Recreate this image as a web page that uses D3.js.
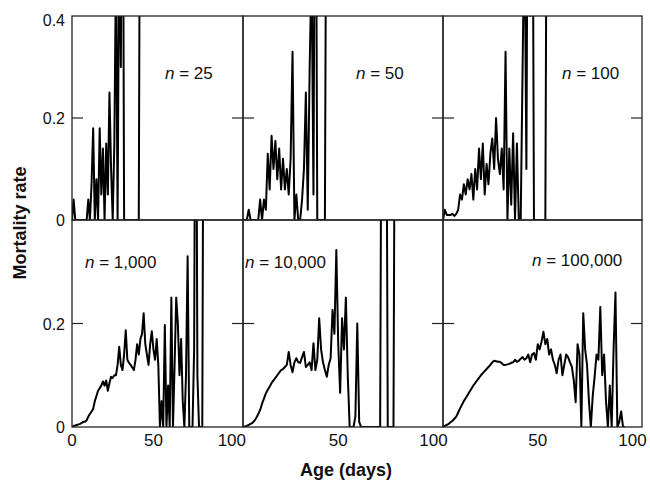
<!DOCTYPE html>
<html>
<head>
<meta charset="utf-8">
<script src="https://cdn.jsdelivr.net/npm/d3@7"></script>
<style>
  body { margin: 0; background: #fff; }
  text { font-family: "Liberation Sans", Arial, sans-serif; fill: #111; }
</style>
</head>
<body>
<div id="chart"></div>
<script>
let width = 650,
    height = 480;

// daily mortality rate, one value per day of age starting at day 0
const rate25 = [0, 0.04, 0, 0, 0, 0, 0, 0, 0, 0,
  0.04, 0, 0.07, 0.18, 0, 0.08, 0, 0.18, 0.05, 0.14,
  0, 0.15, 0.05, 0.25, 0.1, 0, 0.15, 0.5, 0, 0.6,
  0.3, 1, 0, 0, 0, 0, 0, 0, 0, 0,
  0, 0, 1];

const rate50 = [0, 0, 0, 0.02, 0, 0, 0, 0, 0, 0.04,
  0, 0.04, 0.02, 0.13, 0.06, 0.165, 0.1, 0.155, 0.08, 0.14,
  0.06, 0.12, 0.06, 0.1, 0.05, 0.12, 0.33, 0, 0.05, 0,
  0, 0.04, 0.1, 0.25, 0.02, 0.3, 0.5, 0.05, 1, 0,
  0, 0, 0, 0, 1];

const rate100 = [0, 0.02, 0.01, 0.01, 0.01, 0.012, 0.008, 0.012, 0.02, 0.05,
  0.04, 0.07, 0.05, 0.08, 0.06, 0.09, 0.04, 0.1, 0.06, 0.14,
  0.08, 0.15, 0.05, 0.11, 0.07, 0.13, 0.16, 0.1, 0.2, 0.12,
  0.09, 0.14, 0.06, 0.33, 0, 0.14, 0.03, 0.17, 0, 0.15,
  0, 0, 0.3, 0.6, 0.1, 1, 0.4, 1, 0, 0,
  0, 0, 0, 0, 0, 1];

const rate1000 = [0, 0.002, 0.003, 0.004, 0.005, 0.006, 0.008, 0.01, 0.01, 0.013,
  0.02, 0.025, 0.03, 0.035, 0.05, 0.06, 0.07, 0.075, 0.08, 0.088,
  0.08, 0.09, 0.07, 0.085, 0.097, 0.095, 0.1, 0.1, 0.12, 0.155,
  0.12, 0.11, 0.14, 0.187, 0.13, 0.124, 0.12, 0.115, 0.11, 0.13,
  0.16, 0.14, 0.17, 0.18, 0.22, 0.16, 0.14, 0.12, 0.16, 0.185,
  0.15, 0.13, 0.17, 0.12, 0, 0.05, 0, 0.197, 0, 0.08,
  0, 0.25, 0, 0.12, 0.25, 0.2, 0.1, 0.17, 0.05, 0,
  0.1, 0.33, 0, 0, 0, 0.15, 1, 0.1, 0, 0,
  0, 1];

const rate10000 = [0, 0.001, 0.002, 0.004, 0.006, 0.008, 0.012, 0.018, 0.025, 0.033,
  0.045, 0.055, 0.065, 0.072, 0.078, 0.085, 0.09, 0.095, 0.1, 0.105,
  0.11, 0.112, 0.116, 0.12, 0.145, 0.12, 0.106, 0.125, 0.133, 0.125,
  0.124, 0.135, 0.145, 0.116, 0.12, 0.125, 0.11, 0.162, 0.11, 0.13,
  0.21, 0.15, 0.125, 0.11, 0.097, 0.12, 0.133, 0.226, 0.18, 0.342,
  0.16, 0.066, 0.21, 0.15, 0.25, 0.1, 0, 0, 0, 0.02,
  0.2, 0.01, 0, 0, 0, 0, 0, 0, 0, 0,
  0, 0, 0, 1, 0.5, 1, 0, 0, 0, 0,
  1];

const rate100000 = [0, 0.002, 0.004, 0.006, 0.009, 0.012, 0.016, 0.02, 0.028, 0.036,
  0.043, 0.05, 0.056, 0.062, 0.068, 0.074, 0.08, 0.085, 0.09, 0.095,
  0.1, 0.104, 0.108, 0.112, 0.116, 0.12, 0.125, 0.128, 0.127, 0.126,
  0.126, 0.123, 0.12, 0.12, 0.121, 0.122, 0.124, 0.125, 0.13, 0.126,
  0.128, 0.132, 0.135, 0.13, 0.133, 0.14, 0.125, 0.14, 0.143, 0.13,
  0.16, 0.15, 0.165, 0.184, 0.16, 0.17, 0.14, 0.15, 0.13, 0.12,
  0.104, 0.13, 0.14, 0.1, 0.12, 0.14, 0.135, 0.125, 0.116, 0.09,
  0.048, 0.16, 0.14, 0, 0.22, 0.15, 0.12, 0.05, 0, 0.06,
  0.097, 0.14, 0.13, 0.232, 0.1, 0.14, 0.05, 0, 0.08, 0,
  0.15, 0.26, 0, 0.01, 0.03, 0, 0];

const cohortLabels = ["25", "50", "100", "1,000", "10,000", "100,000"];
const series = [rate25, rate50, rate100, rate1000, rate10000, rate100000];
const xTicks = [0, 50, 100];
const yTicks = [0, 0.2, 0.4];

// panel grid (pixel edges)
const colEdges = [72, 243, 443, 642];
const rowEdges = [16, 220, 427];

const svg = d3.select("#chart")
  .append("svg")
  .attr("width", width)
  .attr("height", height);

// where each "n = ..." label sits inside its panel
const labelPos = [
  { x: 165, y: 79 },
  { x: 356, y: 79 },
  { x: 562, y: 79 },
  { x: 85, y: 268 },
  { x: 245, y: 268 },
  { x: 532, y: 266 }
];

series.forEach((values, i) => {
  let row = Math.floor(i / 3), col = i % 3;
  let x0 = colEdges[col], x1 = colEdges[col + 1];
  let y0 = rowEdges[row], y1 = rowEdges[row + 1];

  let x = d3.scaleLinear().domain([0, 105]).range([x0, x1]);
  let y = d3.scaleLinear().domain([0, 0.4]).range([y1, y0]);

  const g = svg.append("g");

  g.append("clipPath")
    .attr("id", "clip" + i)
    .append("rect")
    .attr("x", x0).attr("y", y0)
    .attr("width", x1 - x0).attr("height", y1 - y0);

  // the mortality curve
  g.append("path")
    .datum(values)
    .attr("clip-path", `url(#clip${i})`)
    .attr("fill", "none")
    .attr("stroke", "#000")
    .attr("stroke-width", 2)
    .attr("stroke-linejoin", "round")
    .attr("d", d3.line().x((d, j) => x(j)).y(d => y(d)));

  // frame
  g.append("rect")
    .attr("x", x0).attr("y", y0)
    .attr("width", x1 - x0).attr("height", y1 - y0)
    .attr("fill", "none")
    .attr("stroke", "#222")
    .attr("stroke-width", 1.3);

  // inward ticks at 0.2 on both sides
  g.append("line")
    .attr("x1", x0).attr("x2", x0 + 11)
    .attr("y1", y(0.2)).attr("y2", y(0.2))
    .attr("stroke", "#222").attr("stroke-width", 1.2);
  g.append("line")
    .attr("x1", x1 - 11).attr("x2", x1)
    .attr("y1", y(0.2)).attr("y2", y(0.2))
    .attr("stroke", "#222").attr("stroke-width", 1.2);

  // y tick labels on the left column only
  if (col == 0) {
    yTicks.forEach(t => {
      if (row == 1 && t == 0.4) return;
      g.append("text")
        .attr("x", 65)
        .attr("y", y(t) + (t == 0.4 ? 6 : 2))
        .attr("text-anchor", "end")
        .attr("dominant-baseline", "middle")
        .style("font-size", "16px")
        .text(t == 0 ? "0" : t.toFixed(1));
    });
  }

  // x tick labels on the bottom row only
  if (row == 1) {
    xTicks.forEach(t => {
      if (col > 0 && t == 0) return;
      g.append("text")
        .attr("x", x(t) + (t == 100 && col == 0 ? -3 : 0))
        .attr("y", 446)
        .attr("text-anchor", "middle")
        .style("font-size", "17px")
        .text(t);
    });
  }

  // "n = ..." label
  let lp = labelPos[i];
  const lab = g.append("text")
    .attr("x", lp.x).attr("y", lp.y)
    .style("font-size", "17px");
  lab.append("tspan").style("font-style", "italic").text("n");
  lab.append("tspan").text(" = " + cohortLabels[i]);
});

// axis titles
svg.append("text")
  .attr("transform", "translate(26,223) rotate(-90)")
  .attr("text-anchor", "middle")
  .style("font-size", "18px")
  .style("font-weight", "bold")
  .text("Mortality rate");

svg.append("text")
  .attr("x", 346)
  .attr("y", 476)
  .attr("text-anchor", "middle")
  .style("font-size", "18px")
  .style("font-weight", "bold")
  .text("Age (days)");
</script>
</body>
</html>
